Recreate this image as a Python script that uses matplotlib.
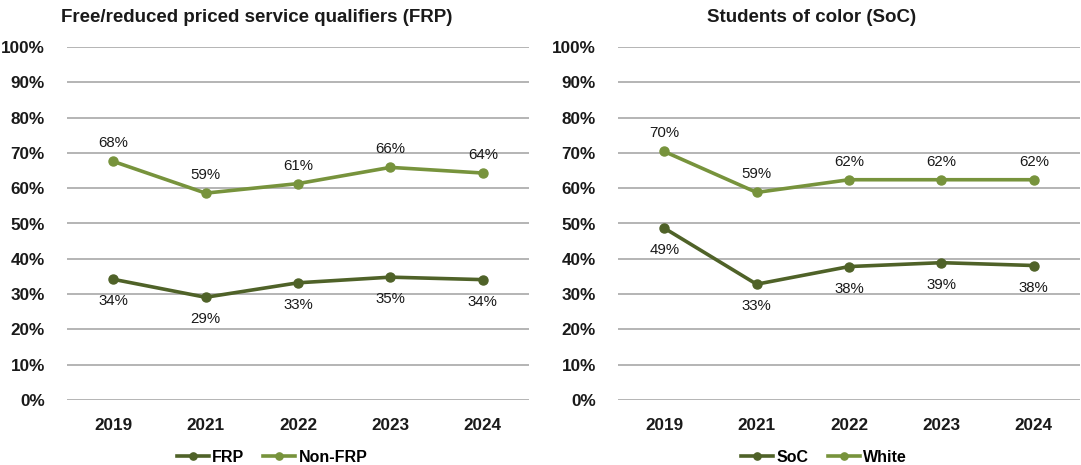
import matplotlib.pyplot as plt
from matplotlib.ticker import PercentFormatter

# Data
years = ['2019', '2021', '2022', '2023', '2024']

frp = [34.2, 29.1, 33.2, 34.8, 34.1]
non_frp = [67.6, 58.6, 61.3, 65.9, 64.3]
frp_labels = ['34%', '29%', '33%', '35%', '34%']
non_frp_labels = ['68%', '59%', '61%', '66%', '64%']

soc = [48.7, 32.8, 37.8, 38.9, 38.1]
white = [70.4, 58.8, 62.4, 62.4, 62.4]
soc_labels = ['49%', '33%', '38%', '39%', '38%']
white_labels = ['70%', '59%', '62%', '62%', '62%']

dark_green = '#4F6228'
light_green = '#77933C'
grid_gray = '#A0A0A0'
font = 'Liberation Sans'

W, H = 1081, 465
fig = plt.figure(figsize=(W / 100, H / 100), dpi=100)


def draw_panel(rect, title, title_x, low, high, low_lab, high_lab, names, legend_x):
    ax = fig.add_axes(rect)
    x = range(len(years))
    ax.plot(x, low, color=dark_green, lw=2.6, marker='o', ms=6.5, label=names[0], zorder=3)
    ax.plot(x, high, color=light_green, lw=2.6, marker='o', ms=6.5, label=names[1], zorder=3)

    # value labels: upper series above the points, lower series below
    for i in x:
        ax.annotate(high_lab[i], (i, high[i]), xytext=(0, 13), textcoords='offset points',
                    ha='center', va='center', fontsize=10.8, family=font, color='#1a1a1a')
        ax.annotate(low_lab[i], (i, low[i]), xytext=(0, -16), textcoords='offset points',
                    ha='center', va='center', fontsize=10.8, family=font, color='#1a1a1a')

    ax.set_ylim(0, 100)
    ax.set_xlim(-0.5, len(years) - 0.5)
    ax.set_yticks(range(0, 101, 10))
    ax.yaxis.set_major_formatter(PercentFormatter(decimals=0))
    ax.set_xticks(list(x))
    ax.set_xticklabels(years)
    for lab in ax.get_xticklabels() + ax.get_yticklabels():
        lab.set_family(font)
        lab.set_fontweight('bold')
        lab.set_fontsize(12.3)
        lab.set_color('#1a1a1a')
    ax.tick_params(axis='both', length=0)
    ax.tick_params(axis='y', pad=16)
    ax.tick_params(axis='x', pad=13)
    ax.grid(axis='y', color=grid_gray, lw=1.1)
    ax.set_axisbelow(True)
    for s in ax.spines.values():
        s.set_visible(False)

    fig.text(title_x / W, 1 - 18 / H, title, ha='center', va='center',
             fontsize=13.5, fontweight='bold', family=font, color='#1a1a1a')

    fig.legend(*ax.get_legend_handles_labels(), loc='center', ncol=2,
               bbox_to_anchor=(legend_x / W, 1 - 457 / H), frameon=False,
               prop={'family': font, 'weight': 'bold', 'size': 11.5},
               handlelength=2.0, handletextpad=0.2, columnspacing=1.2, markerscale=0.8)
    return ax


draw_panel([67 / W, 65 / H, 462 / W, 353 / H], 'Free/reduced priced service qualifiers (FRP)', 257,
           frp, non_frp, frp_labels, non_frp_labels, ['FRP', 'Non-FRP'], 272)
draw_panel([618 / W, 65 / H, 462 / W, 353 / H], 'Students of color (SoC)', 812,
           soc, white, soc_labels, white_labels, ['SoC', 'White'], 824)

fig.savefig('out.png', dpi=100, facecolor='white')
